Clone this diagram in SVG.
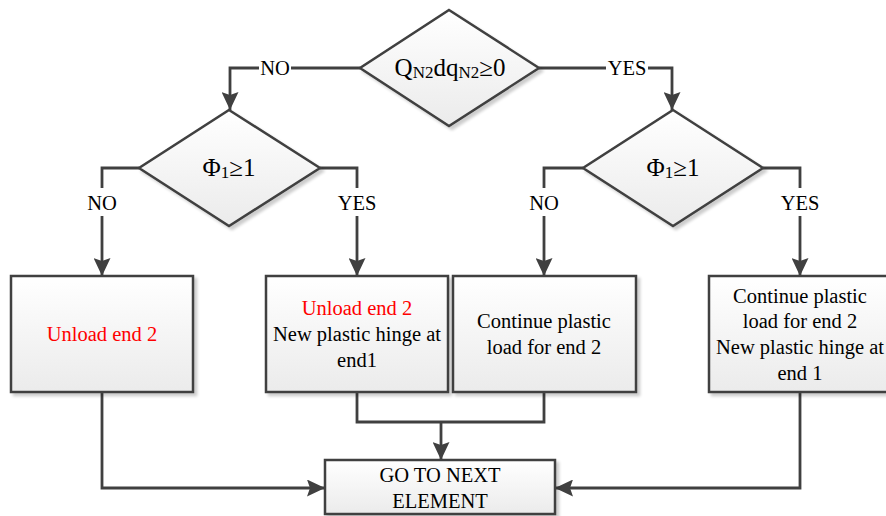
<svg xmlns="http://www.w3.org/2000/svg" width="886" height="516" viewBox="0 0 886 516">
<defs>
<linearGradient id="g" x1="0" y1="0" x2="0" y2="1">
<stop offset="0" stop-color="#ffffff"/>
<stop offset="1" stop-color="#ebebeb"/>
</linearGradient>
<filter id="sh" x="-10%" y="-10%" width="130%" height="130%">
<feGaussianBlur in="SourceAlpha" stdDeviation="1.5"/>
<feOffset dx="3" dy="3" result="o"/>
<feComponentTransfer><feFuncA type="linear" slope="0.2"/></feComponentTransfer>
<feMerge><feMergeNode/><feMergeNode in="SourceGraphic"/></feMerge>
</filter>
<marker id="ar" markerUnits="userSpaceOnUse" markerWidth="18" markerHeight="17" refX="18" refY="8.5" orient="auto">
<path d="M0,0 L18,8.5 L0,17 L3,8.5 z" fill="#404040"/>
</marker>
</defs>
<style>
.shape{fill:url(#g);stroke:#404040;stroke-width:2.5;filter:url(#sh)}
.ln{fill:none;stroke:#404040;stroke-width:2.8}
text{font-family:'Liberation Serif','Times New Roman',serif}
.t{font-size:20.5px;fill:#000;text-anchor:middle}
.red{fill:#ff0000}
.lbl{font-size:20.5px;fill:#000;text-anchor:middle}
.bg{fill:#ffffff}
</style>
<g id="connectors">
<path class="ln" d="M360,68 H230 V110" marker-end="url(#ar)"/>
<path class="ln" d="M539,68 H672 V110" marker-end="url(#ar)"/>
<path class="ln" d="M139,168 H102 V276" marker-end="url(#ar)"/>
<path class="ln" d="M320,168 H357 V276" marker-end="url(#ar)"/>
<path class="ln" d="M583,168 H544 V276" marker-end="url(#ar)"/>
<path class="ln" d="M763,168 H800 V276" marker-end="url(#ar)"/>
<path class="ln" d="M102,392 V488 H325" marker-end="url(#ar)"/>
<path class="ln" d="M800,392 V488 H555" marker-end="url(#ar)"/>
<path class="ln" d="M357,392 V422 H544 V392"/>
<path class="ln" d="M441,422 V460" marker-end="url(#ar)"/>
<rect class="bg" x="259" y="58" width="32" height="20"/>
<text class="lbl" x="275" y="75">NO</text>
<rect class="bg" x="606" y="58" width="42" height="20"/>
<text class="lbl" x="627" y="75">YES</text>
<rect class="bg" x="86" y="188" width="32" height="28"/>
<text class="lbl" x="102" y="210">NO</text>
<rect class="bg" x="336" y="188" width="42" height="28"/>
<text class="lbl" x="357" y="210">YES</text>
<rect class="bg" x="528" y="188" width="32" height="28"/>
<text class="lbl" x="544" y="210">NO</text>
<rect class="bg" x="779" y="188" width="42" height="28"/>
<text class="lbl" x="800" y="210">YES</text>
</g>
<g id="d-top">
<polygon class="shape" points="449,10 539,68 449,126 360,68"/>
<text class="t" x="450" y="76" style="font-size:25px">Q<tspan style="font-size:17px" dy="2">N2</tspan><tspan dy="-2">dq</tspan><tspan style="font-size:17px" dy="2">N2</tspan><tspan dy="-2">≥0</tspan></text>
</g>
<g id="d-left">
<polygon class="shape" points="229,110 320,168 229,226 139,168"/>
<text class="t" x="229" y="176" style="font-size:25px">Φ<tspan style="font-size:17px" dy="2">1</tspan><tspan dy="-2">≥1</tspan></text>
</g>
<g id="d-right">
<polygon class="shape" points="673,110 763,168 673,226 583,168"/>
<text class="t" x="673" y="176" style="font-size:25px">Φ<tspan style="font-size:17px" dy="2">1</tspan><tspan dy="-2">≥1</tspan></text>
</g>
<g id="b1">
<rect class="shape" x="11" y="276" width="182" height="116"/>
<text class="t red" x="102" y="341">Unload end 2</text>
</g>
<g id="b2">
<rect class="shape" x="266" y="276" width="182" height="116"/>
<text class="t red" x="357" y="315">Unload end 2</text>
<text class="t" x="357" y="341">New plastic hinge at</text>
<text class="t" x="357" y="367">end1</text>
</g>
<g id="b3">
<rect class="shape" x="453" y="276" width="183" height="116"/>
<text class="t" x="544" y="328">Continue plastic</text>
<text class="t" x="544" y="354">load for end 2</text>
</g>
<g id="b4">
<rect class="shape" x="709" y="276" width="182" height="116"/>
<text class="t" x="800" y="303">Continue plastic</text>
<text class="t" x="800" y="328">load for end 2</text>
<text class="t" x="800" y="354">New plastic hinge at</text>
<text class="t" x="800" y="380">end 1</text>
</g>
<g id="b5">
<rect class="shape" x="325" y="460" width="230" height="54"/>
<text class="t" x="440" y="482">GO TO NEXT</text>
<text class="t" x="440" y="508">ELEMENT</text>
</g>
</svg>
